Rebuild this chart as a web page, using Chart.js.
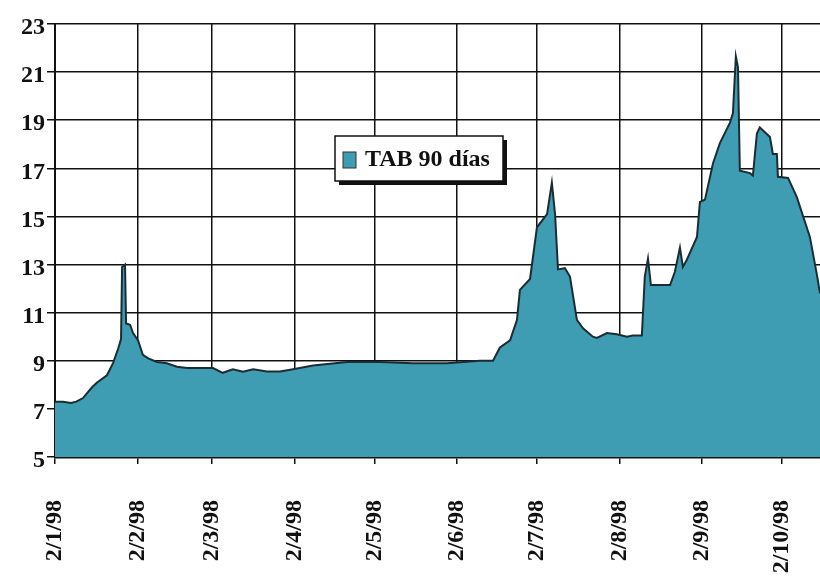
<!DOCTYPE html>
<html>
<head>
<meta charset="utf-8">
<script src="https://cdn.jsdelivr.net/npm/chart.js@4.4.0/dist/chart.umd.min.js"></script>
<style>
  body{margin:0;background:#fff;}
  #wrap{width:820px;height:588px;}
</style>
</head>
<body>
<div id="wrap"><canvas id="tabChart" width="820" height="588"></canvas></div>
<script>

  // DATA (days counted from 2/1/98)

var days=[0,3,6,8,10.5,13.9,15.8,19.5,21.8,23.7,24.8,25.2,26.3,26.7,28.2,29.3,31.2,33,35,38.3,42,45.8,49.6,54.4,59.3,63,66.8,70.6,74.4,79.6,84.5,89.4,96.9,109.7,122,134.4,147.2,159.6,164.5,167.1,170.9,173.5,174.6,178.4,181,184.8,186.6,187.8,188.9,191.5,193.4,196,198.3,202,203.5,207.3,211,214.8,217,220.4,221.5,222.7,223.8,231,232.8,234.7,235.8,237.3,241.1,242.2,244.1,247.1,249.7,253.5,254.6,255.7,256.5,257.2,261,262.1,263.6,264.7,268.5,269.6,271.1,271.5,275.3,278.6,283.5,286.1,287.3];
var tab90=[7.3,7.3,7.25,7.3,7.45,7.9,8.1,8.4,8.9,9.5,9.9,12.9,13.0,10.55,10.5,10.15,9.85,9.25,9.1,8.95,8.9,8.75,8.7,8.7,8.7,8.5,8.65,8.55,8.65,8.55,8.55,8.65,8.8,8.95,8.95,8.9,8.9,9.0,9.0,9.55,9.85,10.7,11.95,12.4,14.55,15.1,16.4,15.1,12.8,12.85,12.5,10.7,10.35,10.0,9.95,10.15,10.1,10.0,10.05,10.05,12.5,13.25,12.15,12.15,12.7,13.7,12.9,13.2,14.15,15.6,15.7,17.2,18.05,18.9,19.3,21.65,21.2,16.9,16.8,16.7,18.45,18.7,18.3,17.6,17.6,16.65,16.6,15.8,14.15,12.6,11.8];

var monthTicks=[0,31,59,90,120,151,181,212,243,273];
var monthLabels=['2/1/98','2/2/98','2/3/98','2/4/98','2/5/98','2/6/98','2/7/98','2/8/98','2/9/98','2/10/98'];

var seriesName='TAB 90 días';
var tealFill='#3f9db3';

var points=days.map((d,i)=>({x:d,y:tab90[i]}));

// LEGEND BOX INSIDE THE PLOT
var boxLegend={
  id:'boxLegend',
  afterDraw(chart){
    var ctx=chart.ctx;
    var x=335,y=136,w=168,h=45;
    ctx.save();
    ctx.fillStyle='#111';
    ctx.fillRect(x+4,y+4,w,h);
    ctx.fillStyle='#fff';
    ctx.fillRect(x,y,w,h);
    ctx.strokeStyle='#111';
    ctx.lineWidth=1.5;
    ctx.strokeRect(x,y,w,h);
    ctx.fillStyle=tealFill;
    ctx.fillRect(x+8,y+16,13,16);
    ctx.strokeStyle='#333';
    ctx.lineWidth=1;
    ctx.strokeRect(x+8,y+16,13,16);
    ctx.fillStyle='#111';
    ctx.font='bold 24px "Liberation Serif"';
    ctx.textBaseline='middle';
    ctx.fillText(seriesName,x+30,y+24);
    ctx.restore();
  }
};

const tabChart=new Chart('tabChart',{
  type:'line',
  data:{
    datasets:[{
      label:seriesName,
      data:points,
      fill:'start',
      backgroundColor:tealFill,
      borderColor:'#1c2c33',
      borderWidth:2,
      pointRadius:0,
      tension:0
    }]
  },
  options:{
    responsive:false,
    animation:false,
    layout:{padding:{top:24,right:0,left:0,bottom:0}},
    plugins:{legend:{display:false},tooltip:{enabled:false}},
    scales:{
      x:{
        type:'linear',
        min:0,
        max:287.3,
        afterBuildTicks(scale){scale.ticks=monthTicks.map(v=>({value:v}));},
        afterFit(scale){scale.height=131;scale.paddingRight=0;scale.paddingLeft=0;},
        grid:{color:'#111',lineWidth:1.5,tickLength:7},
        border:{color:'#111',width:2.5},
        ticks:{
          maxRotation:90,minRotation:90,autoSkip:false,padding:36,
          color:'#111',
          font:{family:'"Liberation Serif"',size:24,weight:'bold'},
          callback:(v)=>{var i=monthTicks.indexOf(v);return i<0?'':monthLabels[i];}
        }
      },
      y:{
        min:5,
        max:23,
        afterFit(scale){scale.width=55;},
        grid:{color:'#111',lineWidth:1.5,tickLength:8},
        border:{color:'#111',width:2},
        ticks:{
          stepSize:2,padding:2,labelOffset:4,
          color:'#111',
          font:{family:'"Liberation Serif"',size:24,weight:'bold'}
        }
      }
    }
  },
  plugins:[boxLegend]
});
</script>
</body>
</html>
